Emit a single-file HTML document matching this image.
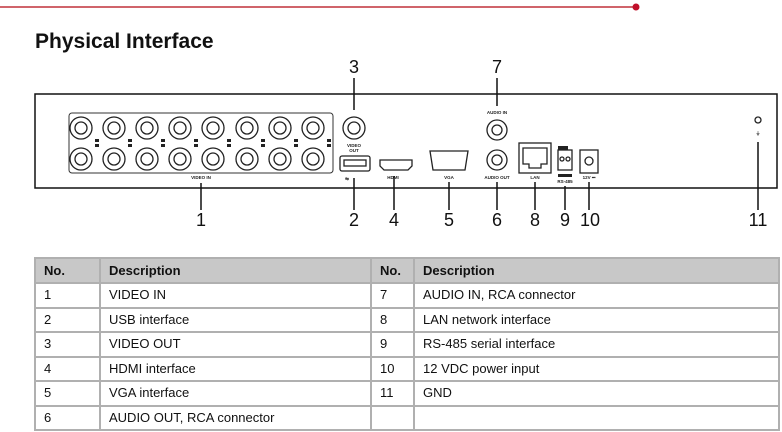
<!DOCTYPE html><html><head><style>
body{margin:0;width:782px;height:432px;background:#fff;position:relative;overflow:hidden;font-family:"Liberation Sans",sans-serif}
table{position:absolute;left:34px;top:257px;border-collapse:collapse;font-size:13px;color:#111;table-layout:fixed;width:744px}
td{border:2px solid #b0b0b0;padding:0 8px;line-height:20px}
tr{height:24.5px}
tr.h{height:25px}
tr.h td{background:#c8c8c8;font-weight:bold}
</style></head><body>
<svg width="782" height="432" style="position:absolute;left:0;top:0" font-family="Liberation Sans, sans-serif">
<line x1="0" y1="7" x2="636" y2="7" stroke="#c0303a" stroke-width="1.5"/><circle cx="636" cy="7" r="3.5" fill="#c0102a"/>
<text x="35" y="48" font-size="21" font-weight="bold" fill="#111">Physical Interface</text>
<rect x="35" y="94" width="742" height="94" fill="none" stroke="#111" stroke-width="1.5"/>
<rect x="69" y="113" width="264" height="60" rx="3" fill="none" stroke="#333"/>
<g fill="none" stroke="#222" stroke-width="1.3">
<circle cx="81" cy="128" r="11"/><circle cx="81" cy="128" r="6"/><circle cx="114" cy="128" r="11"/><circle cx="114" cy="128" r="6"/><circle cx="147" cy="128" r="11"/><circle cx="147" cy="128" r="6"/><circle cx="180" cy="128" r="11"/><circle cx="180" cy="128" r="6"/><circle cx="213" cy="128" r="11"/><circle cx="213" cy="128" r="6"/><circle cx="247" cy="128" r="11"/><circle cx="247" cy="128" r="6"/><circle cx="280" cy="128" r="11"/><circle cx="280" cy="128" r="6"/><circle cx="313" cy="128" r="11"/><circle cx="313" cy="128" r="6"/>
<circle cx="81" cy="159" r="11"/><circle cx="81" cy="159" r="6"/><circle cx="114" cy="159" r="11"/><circle cx="114" cy="159" r="6"/><circle cx="147" cy="159" r="11"/><circle cx="147" cy="159" r="6"/><circle cx="180" cy="159" r="11"/><circle cx="180" cy="159" r="6"/><circle cx="213" cy="159" r="11"/><circle cx="213" cy="159" r="6"/><circle cx="247" cy="159" r="11"/><circle cx="247" cy="159" r="6"/><circle cx="280" cy="159" r="11"/><circle cx="280" cy="159" r="6"/><circle cx="313" cy="159" r="11"/><circle cx="313" cy="159" r="6"/>
<circle cx="354" cy="128" r="11"/><circle cx="354" cy="128" r="6"/>
<rect x="340" y="156" width="30" height="15" rx="2"/><rect x="344" y="160" width="22" height="6"/>
<path d="M380 160h32v6l-4 4h-24l-4-4z"/>
<path d="M430 151h38l-3 19h-32z"/>
<circle cx="497" cy="130" r="10"/><circle cx="497" cy="130" r="5"/><circle cx="497" cy="160" r="10"/><circle cx="497" cy="160" r="5"/>
<rect x="519" y="143" width="32" height="30"/><path d="M523 148h24v16h-6v4h-12v-4h-6z"/>
<rect x="558" y="150" width="14" height="20"/><circle cx="562" cy="159" r="2"/><circle cx="568" cy="159" r="2"/>
<rect x="580" y="150" width="18" height="23"/><circle cx="589" cy="161" r="4"/>
<circle cx="758" cy="120" r="3"/>
</g>
<g fill="#222">
<rect x="95" y="139" width="4" height="3"/><rect x="95" y="144" width="4" height="3"/><rect x="128" y="139" width="4" height="3"/><rect x="128" y="144" width="4" height="3"/><rect x="161" y="139" width="4" height="3"/><rect x="161" y="144" width="4" height="3"/><rect x="194" y="139" width="4" height="3"/><rect x="194" y="144" width="4" height="3"/><rect x="227" y="139" width="4" height="3"/><rect x="227" y="144" width="4" height="3"/><rect x="261" y="139" width="4" height="3"/><rect x="261" y="144" width="4" height="3"/><rect x="294" y="139" width="4" height="3"/><rect x="294" y="144" width="4" height="3"/><rect x="327" y="139" width="4" height="3"/><rect x="327" y="144" width="4" height="3"/>
<rect x="558" y="146" width="10" height="4"/><rect x="558" y="174" width="14" height="3"/>
<g font-size="4.5" font-weight="bold" text-anchor="middle">
<text x="201" y="179">VIDEO IN</text><text x="354" y="147">VIDEO</text><text x="354" y="152">OUT</text><text x="347" y="180">⇆</text><text x="393" y="179">HDMI</text><text x="449" y="179">VGA</text><text x="497" y="114">AUDIO IN</text><text x="497" y="179">AUDIO OUT</text><text x="535" y="179">LAN</text><text x="565" y="183">RS-485</text><text x="589" y="179">12V ⎓</text><text x="758" y="135">⏚</text></g>
</g>
<g stroke="#111" stroke-width="1.5">
<line x1="354" y1="78" x2="354" y2="110"/><line x1="497" y1="78" x2="497" y2="106"/>
<line x1="201" y1="183" x2="201" y2="210"/><line x1="354" y1="178" x2="354" y2="210"/><line x1="394" y1="176" x2="394" y2="210"/><line x1="449" y1="182" x2="449" y2="210"/><line x1="497" y1="182" x2="497" y2="210"/><line x1="535" y1="182" x2="535" y2="210"/><line x1="565" y1="186" x2="565" y2="210"/><line x1="589" y1="182" x2="589" y2="210"/><line x1="758" y1="142" x2="758" y2="210"/>
</g>
<g font-size="18" text-anchor="middle" fill="#111">
<text x="354" y="73">3</text><text x="497" y="73">7</text>
<text x="201" y="226">1</text><text x="354" y="226">2</text><text x="394" y="226">4</text><text x="449" y="226">5</text><text x="497" y="226">6</text><text x="535" y="226">8</text><text x="565" y="226">9</text><text x="590" y="226">10</text><text x="758" y="226">11</text>
</g>
</svg>
<table>
<colgroup><col style="width:65px"><col style="width:271px"><col style="width:43px"><col style="width:365px"></colgroup>
<tr class="h"><td>No.</td><td>Description</td><td>No.</td><td>Description</td></tr>
<tr><td>1</td><td>VIDEO IN</td><td>7</td><td>AUDIO IN, RCA connector</td></tr>
<tr><td>2</td><td>USB interface</td><td>8</td><td>LAN network interface</td></tr>
<tr><td>3</td><td>VIDEO OUT</td><td>9</td><td>RS-485 serial interface</td></tr>
<tr><td>4</td><td>HDMI interface</td><td>10</td><td>12 VDC power input</td></tr>
<tr><td>5</td><td>VGA interface</td><td>11</td><td>GND</td></tr>
<tr><td>6</td><td>AUDIO OUT, RCA connector</td><td></td><td></td></tr>
</table>
</body></html>
